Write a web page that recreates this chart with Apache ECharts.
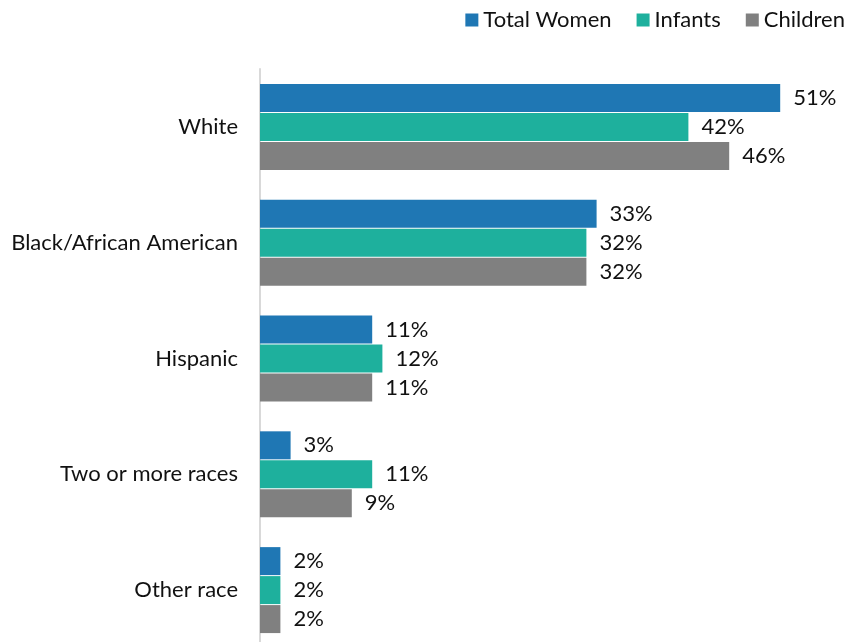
<!DOCTYPE html>
<html>
<head>
<meta charset="utf-8">
<script src="https://cdn.jsdelivr.net/npm/echarts@6/dist/echarts.min.js"></script>
<style>
  html, body { margin: 0; padding: 0; background: #fff; }
  #chart { width: 850px; height: 642px; }
</style>
</head>
<body>
<div id="chart"></div>
<script>
// Race / ethnicity breakdown, percent of each group
const categories = ['White', 'Black/African American', 'Hispanic', 'Two or more races', 'Other race'];
const totalWomen = [51, 33, 11, 3, 2];
const infants = [42, 32, 12, 11, 2];
const children = [46, 32, 11, 9, 2];
const seriesNames = ['Total Women', 'Infants', 'Children'];
const seriesColors = ['#1f77b4', '#1eb09d', '#808080'];

const FONT = 'Lato, "Open Sans", sans-serif';
const FONT_SIZE = 22;

const chart = echarts.init(document.getElementById('chart'), null, { renderer: 'canvas' });

const makeSeries = (name, data, color) => ({
  name: name,
  type: 'bar',
  data: data,
  barWidth: 28,
  barGap: '3.5%',
  itemStyle: { color: color },
  label: {
    show: true,
    position: 'right',
    distance: 13,
    formatter: '{c}%',
    color: '#111',
    fontFamily: FONT,
    fontSize: FONT_SIZE
  }
});

chart.setOption({
  animation: false,
  backgroundColor: '#fff',
  legend: {
    top: 4,
    right: 0,
    itemWidth: 13,
    itemHeight: 13,
    itemGap: 25,
    icon: 'rect',
    textStyle: { fontFamily: FONT, fontSize: FONT_SIZE, color: '#111', padding: [0, 0, 0, 0] },
    data: seriesNames
  },
  // plot area runs past the bottom edge of the canvas
  grid: { left: 260, top: 69, width: 612, height: 579, outerBoundsMode: 'none' },
  xAxis: {
    type: 'value',
    min: 0,
    max: 60,
    show: false
  },
  yAxis: {
    type: 'category',
    inverse: true,
    data: categories,
    axisLine: { show: true, lineStyle: { color: '#d9d9d9', width: 2 } },
    axisTick: { show: false },
    axisLabel: { fontFamily: FONT, fontSize: FONT_SIZE, color: '#111', margin: 22 }
  },
  series: [
    makeSeries(seriesNames[0], totalWomen, seriesColors[0]),
    makeSeries(seriesNames[1], infants, seriesColors[1]),
    makeSeries(seriesNames[2], children, seriesColors[2])
  ]
});
</script>
</body>
</html>
